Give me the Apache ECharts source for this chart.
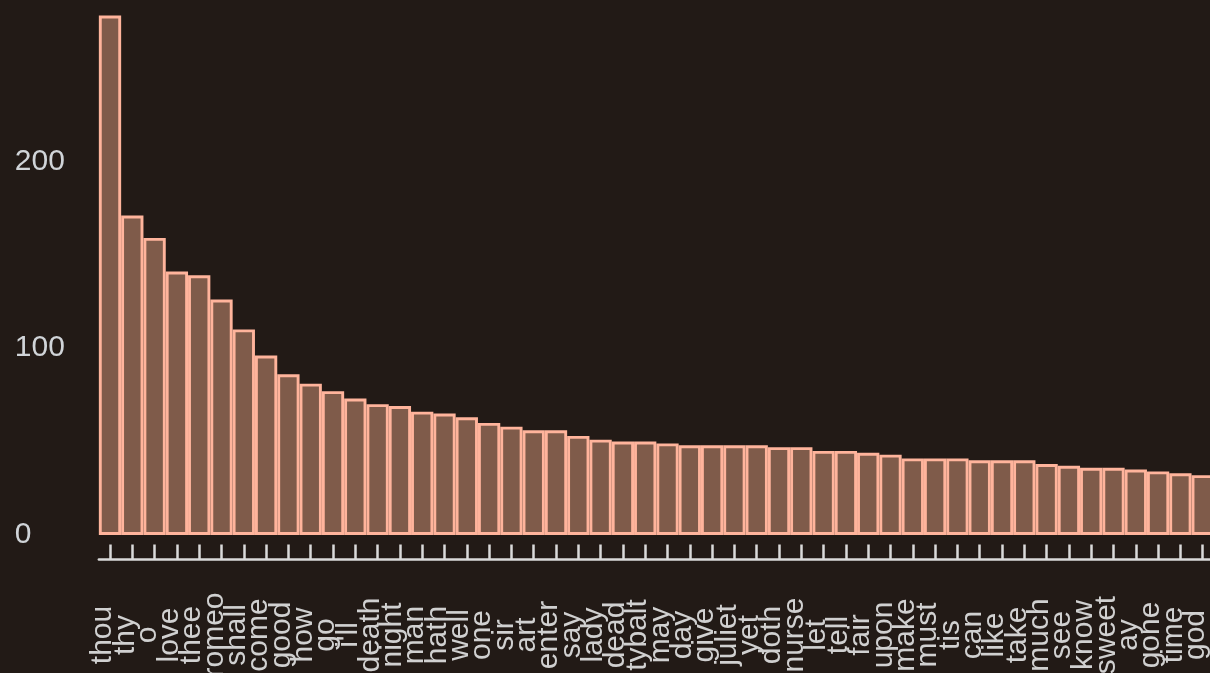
<!DOCTYPE html>
<html>
<head>
<meta charset="utf-8">
<style>
html,body{margin:0;padding:0;background:#221a16;overflow:hidden;}
#chart{width:1210px;height:673px;}
</style>
<script src="https://cdn.jsdelivr.net/npm/echarts@6/dist/echarts.min.js"></script>
</head>
<body>
<div id="chart"></div>
<script>
const categories = ["thou","thy","o","love","thee","romeo","shall","come","good","how",
  "go","i'll","death","night","man","hath","well","one","sir","art",
  "enter","say","lady","dead","tybalt","may","day","give","juliet","yet",
  "doth","nurse","let","tell","fair","upon","make","must","tis","can",
  "like","take","much","see","know","sweet","ay","gone","time","god"];
const counts = [278,171,159,141,139,126,110,96,86,81,
  77,73,70,69,66,65,63,60,58,56,
  56,53,51,50,50,49,48,48,48,48,
  47,47,45,45,44,43,41,41,41,40,
  40,40,38,37,36,36,35,34,33,32];
const yTickValues = [0,100,200];

const chart = echarts.init(document.getElementById('chart'), null, {renderer:'canvas'});
chart.setOption({
  backgroundColor:'#221a16',
  animation:false,
  grid:{left:98.85, width:1115, top:-25.55, bottom:138, containLabel:false, outerBoundsMode:'none'},
  xAxis:{
    type:'category',
    data:categories,
    offset:24.5,
    axisLine:{show:true, onZero:false, lineStyle:{color:'#dadada', width:2.5}},
    axisTick:{show:true, inside:true, length:15, alignWithLabel:true, interval:0, lineStyle:{color:'#dadada', width:2.5}},
    axisLabel:{interval:0, rotate:90, align:'center', verticalAlign:'bottom', lineHeight:14, margin:75.5,
      fontSize:30, fontFamily:'Liberation Sans, Arial, sans-serif', color:'#d0d0d0'}
  },
  yAxis:{
    type:'value', min:0, max:300, interval:100,
    axisLine:{show:false}, axisTick:{show:false}, splitLine:{show:false},
    axisLabel:{align:'left', margin:84, fontSize:30, fontFamily:'Liberation Sans, Arial, sans-serif',
      color:'#d0d4d8', showMaxLabel:false,
      formatter:function(v){ return yTickValues.indexOf(v) >= 0 ? String(v) : ''; }}
  },
  series:[{
    type:'bar',
    data:counts,
    barCategoryGap:'0%',
    itemStyle:{color:'#7f5b4a', borderColor:'#ffb49c', borderWidth:2.9}
  }]
});
</script>
</body>
</html>
